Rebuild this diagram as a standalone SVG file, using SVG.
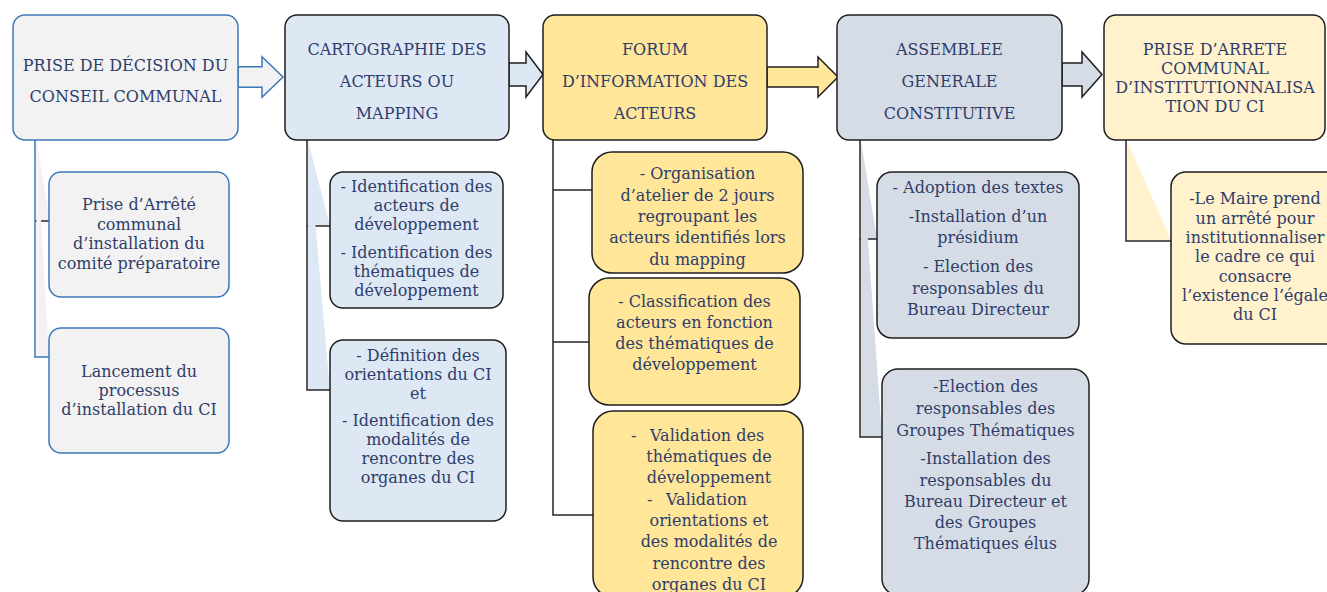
<svg xmlns="http://www.w3.org/2000/svg" width="1327" height="592" viewBox="0 0 1327 592">
<style>
.t{font-family:"DejaVu Serif","Liberation Serif",serif;font-size:16px;fill:#2f3d6a;text-anchor:middle}
.ts{font-family:"DejaVu Serif","Liberation Serif",serif;font-size:16px;fill:#2f3d6a}
.g{fill:#f2f2f2;stroke:#3b78b9;stroke-width:1.5}
.b{fill:#dde8f4;stroke:#1e1e1e;stroke-width:1.5}
.y{fill:#ffe699;stroke:#1e1e1e;stroke-width:1.5}
.s{fill:#d6dce5;stroke:#1e1e1e;stroke-width:1.5}
.c{fill:#fff2cc;stroke:#1e1e1e;stroke-width:1.5}
.ln{fill:none;stroke:#262626;stroke-width:1.5}
.lb{fill:none;stroke:#3b78b9;stroke-width:1.5}
</style>
<g id="connectors">
<polygon points="36.5,141 50,221 36.5,221" fill="#f2f2f2"/>
<path class="ln" d="M35,221 H49"/>
<polygon points="36.5,141 49,357 36.5,357" fill="#f2f2f2"/>
<path class="lb" d="M35,140 V357 H49"/>
<polygon points="308,141 330,226 308,226" fill="#dde8f4"/>
<path class="ln" d="M307,226 H330"/>
<polygon points="308,141 330,390 308,390" fill="#dde8f4"/>
<path class="ln" d="M307,140 V390 H330"/>
<path class="ln" d="M553,140 V515 H593"/>
<path class="ln" d="M553,190 H592"/>
<path class="ln" d="M553,342 H589"/>
<polygon points="861,141 877,239 861,239" fill="#d6dce5"/>
<path class="ln" d="M860,239 H877"/>
<polygon points="861,141 882,437 861,437" fill="#d6dce5"/>
<path class="ln" d="M860,140 V437 H882"/>
<polygon points="1127,141 1171,240 1127,240" fill="#fff2cc"/>
<path class="ln" d="M1126,140 V241 H1171"/>
<polygon class="g" points="238,66.7 262,66.7 262,56.7 283,77 262,97.3 262,87.3 238,87.3"/>
<polygon class="b" points="509,63 526,63 526,52 543,74.5 526,97 526,86 509,86"/>
<polygon class="y" points="767,67 818,67 818,57 838,77 818,97 818,87 767,87"/>
<polygon class="s" points="1062,63 1082,63 1082,52 1102,74.5 1082,97 1082,86 1062,86"/>
</g>
<g id="n1">
<rect class="g" x="13" y="15" width="225" height="125" rx="12"/>
<text class="t" x="125.5" y="70.5">PRISE DE DÉCISION DU</text>
<text class="t" x="125.5" y="101.5">CONSEIL COMMUNAL</text>
</g>
<g id="n1a">
<rect class="g" x="49" y="172" width="180" height="125" rx="12"/>
<text class="t" x="139" y="210">Prise d’Arrêté</text>
<text class="t" x="139" y="229.5">communal</text>
<text class="t" x="139" y="249">d’installation du</text>
<text class="t" x="139" y="268.5">comité préparatoire</text>
</g>
<g id="n1b">
<rect class="g" x="49" y="328" width="180" height="125" rx="12"/>
<text class="t" x="139" y="376.5">Lancement du</text>
<text class="t" x="139" y="395.5">processus</text>
<text class="t" x="139" y="414.5">d’installation du CI</text>
</g>
<g id="n2">
<rect class="b" x="285" y="15" width="224" height="125" rx="12"/>
<text class="t" x="397" y="55">CARTOGRAPHIE DES</text>
<text class="t" x="397" y="87">ACTEURS OU</text>
<text class="t" x="397" y="118.5">MAPPING</text>
</g>
<g id="n2a">
<rect class="b" x="330" y="172" width="173" height="136" rx="13"/>
<text class="t" x="416.5" y="192">- Identification des</text>
<text class="t" x="416.5" y="211">acteurs de</text>
<text class="t" x="416.5" y="230">développement</text>
<text class="t" x="416.5" y="257.5">- Identification des</text>
<text class="t" x="416.5" y="276.5">thématiques de</text>
<text class="t" x="416.5" y="295.5">développement</text>
</g>
<g id="n2b">
<rect class="b" x="330" y="340" width="176" height="181" rx="13"/>
<text class="t" x="418" y="361">- Définition des</text>
<text class="t" x="418" y="380">orientations du CI</text>
<text class="t" x="418" y="399">et</text>
<text class="t" x="418" y="426">- Identification des</text>
<text class="t" x="418" y="445">modalités de</text>
<text class="t" x="418" y="464">rencontre des</text>
<text class="t" x="418" y="483">organes du CI</text>
</g>
<g id="n3">
<rect class="y" x="543" y="15" width="224" height="125" rx="12"/>
<text class="t" x="655" y="55">FORUM</text>
<text class="t" x="655" y="87">D’INFORMATION DES</text>
<text class="t" x="655" y="118.5">ACTEURS</text>
</g>
<g id="n3a">
<rect class="y" x="592" y="152" width="211" height="121" rx="20"/>
<text class="t" x="697.5" y="179">- Organisation</text>
<text class="t" x="697.5" y="200.5">d’atelier de 2 jours</text>
<text class="t" x="697.5" y="222">regroupant les</text>
<text class="t" x="697.5" y="243">acteurs identifiés lors</text>
<text class="t" x="697.5" y="264.5">du mapping</text>
</g>
<g id="n3b">
<rect class="y" x="589" y="278" width="211" height="127" rx="20"/>
<text class="t" x="694.5" y="307">- Classification des</text>
<text class="t" x="694.5" y="328">acteurs en fonction</text>
<text class="t" x="694.5" y="349">des thématiques de</text>
<text class="t" x="694.5" y="370">développement</text>
</g>
<g id="n3c">
<rect class="y" x="593" y="411" width="210" height="186" rx="20"/>
<text class="ts" y="441"><tspan x="631">-</tspan><tspan x="650">Validation des</tspan></text>
<text class="t" x="709" y="462">thématiques de</text>
<text class="t" x="709" y="483">développement</text>
<text class="ts" y="505"><tspan x="647">-</tspan><tspan x="666">Validation</tspan></text>
<text class="t" x="709" y="526">orientations et</text>
<text class="t" x="709" y="547">des modalités de</text>
<text class="t" x="709" y="569">rencontre des</text>
<text class="t" x="709" y="590">organes du CI</text>
</g>
<g id="n4">
<rect class="s" x="837" y="15" width="225" height="125" rx="12"/>
<text class="t" x="949.5" y="55">ASSEMBLEE</text>
<text class="t" x="949.5" y="87">GENERALE</text>
<text class="t" x="949.5" y="118.5">CONSTITUTIVE</text>
</g>
<g id="n4a">
<rect class="s" x="877" y="172" width="202" height="166" rx="15"/>
<text class="t" x="978" y="193">- Adoption des textes</text>
<text class="t" x="978" y="222">-Installation d’un</text>
<text class="t" x="978" y="243">présidium</text>
<text class="t" x="978" y="272">- Election des</text>
<text class="t" x="978" y="294">responsables du</text>
<text class="t" x="978" y="315">Bureau Directeur</text>
</g>
<g id="n4b">
<rect class="s" x="882" y="369" width="207" height="226" rx="16"/>
<text class="t" x="985.5" y="392">-Election des</text>
<text class="t" x="985.5" y="414">responsables des</text>
<text class="t" x="985.5" y="436">Groupes Thématiques</text>
<text class="t" x="985.5" y="464">-Installation des</text>
<text class="t" x="985.5" y="486">responsables du</text>
<text class="t" x="985.5" y="507">Bureau Directeur et</text>
<text class="t" x="985.5" y="528">des Groupes</text>
<text class="t" x="985.5" y="549">Thématiques élus</text>
</g>
<g id="n5">
<rect class="c" x="1104" y="15" width="221" height="125" rx="12"/>
<text class="t" x="1215" y="54.5">PRISE D’ARRETE</text>
<text class="t" x="1215" y="73.5">COMMUNAL</text>
<text class="t" x="1215" y="92.5">D’INSTITUTIONNALISA</text>
<text class="t" x="1215" y="111.5">TION DU CI</text>
</g>
<g id="n5a">
<rect class="c" x="1171" y="172" width="170" height="172" rx="15"/>
<text class="t" x="1255" y="204">-Le Maire prend</text>
<text class="t" x="1255" y="224">un arrêté pour</text>
<text class="t" x="1255" y="243">institutionnaliser</text>
<text class="t" x="1255" y="262">le cadre ce qui</text>
<text class="t" x="1255" y="282">consacre</text>
<text class="t" x="1255" y="301">l’existence l’égale</text>
<text class="t" x="1255" y="320">du CI</text>
</g>
</svg>
